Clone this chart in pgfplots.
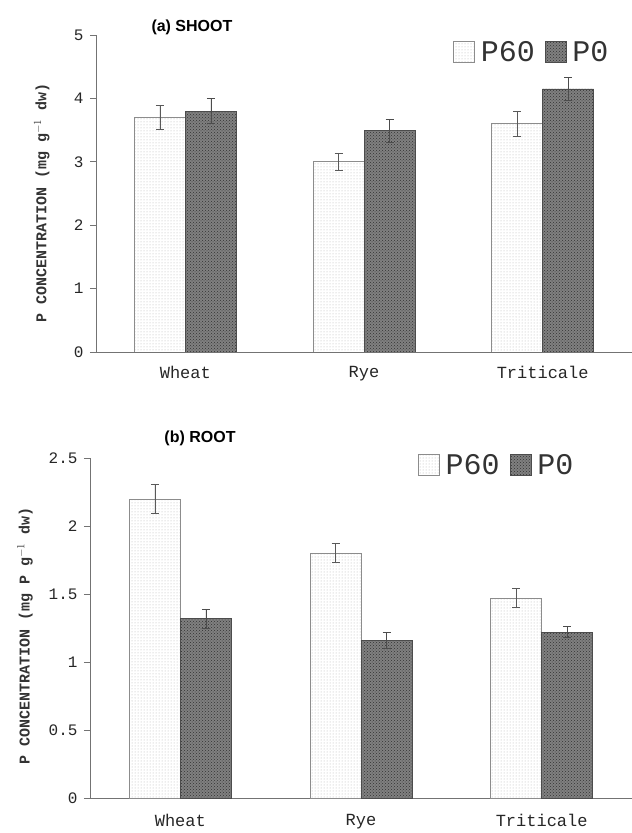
\documentclass[border=0pt]{standalone}
\usepackage{fontspec}
\setmainfont{Liberation Mono}
\newfontfamily\arialfont{Liberation Sans}
\usepackage{pgfplots}
\usepackage{pgfplotstable}
\pgfplotsset{compat=1.18}
\usetikzlibrary{patterns}

\pgfplotstableread{
x p60 e60 p0 e0
0 3.70 0.19 3.80 0.20
1 3.00 0.14 3.49 0.18
2 3.60 0.19 4.15 0.18
}\shoottab
\pgfplotstableread{
x p60 e60 p0 e0
0 2.20 0.11 1.32 0.07
1 1.80 0.07 1.16 0.06
2 1.47 0.07 1.22 0.04
}\roottab

\pgfplotsset{
  panel/.style={
    scale only axis,
    axis x line=bottom, axis y line=left,
    axis line style={-, black!55, line width=0.8pt},
    xmin=-0.5, xmax=2.5, ymin=0,
    xtick={0,1,2}, xticklabels={Wheat,Rye,Triticale},
    major x tick style={draw=none},
    extra x ticks={0.5,1.5}, extra x tick labels={},
    extra x tick style={major tick length=5pt, tick style={black!55, line width=0.8pt}},
    y tick style={black!55, line width=0.8pt},
    tick align=outside, major tick length=6pt,
    /pgf/number format/assume math mode=true,
    ticklabel style={font=\fontsize{16}{18}\selectfont, black!85},
    yticklabel style={xshift=-3pt},
    xticklabel style={font=\fontsize{17}{19}\selectfont, black!85},
    ylabel style={font=\fontsize{15}{17}\selectfont\bfseries, black!80, anchor=center},
    title style={font=\arialfont\bfseries\fontsize{16}{18}\selectfont, anchor=center, yshift=0pt},
    ybar=0pt, bar width=51pt,
    legend columns=2,
    legend style={draw=none, fill=none, inner sep=0pt, font=\fontsize{30}{32}\selectfont, anchor=west,
      text=black!80,
      /tikz/every odd column/.append style={column sep=4pt},
      /tikz/every even column/.append style={column sep=8pt}},
    legend image code/.code={\draw[#1] (0pt,-10.5pt) rectangle (21pt,10.5pt);},
  },
  p60/.style={draw=black!45, line width=0.6pt, pattern=dots, pattern color=black!30,
    error bars/.cd, y dir=both, y explicit,
    error bar style={black!65, line width=0.6pt},
    error mark options={rotate=90, black!65, mark size=4pt, line width=0.6pt}},
  p0/.style={draw=black!70, line width=0.6pt, fill=black!50,
    postaction={pattern=crosshatch dots, pattern color=black!80},
    error bars/.cd, y dir=both, y explicit,
    error bar style={black!70, line width=0.6pt},
    error mark options={rotate=90, black!70, mark size=4pt, line width=0.6pt}},
}

\begin{document}
\begin{tikzpicture}
\useasboundingbox (0pt,0pt) rectangle (632pt,833pt);

\begin{axis}[panel,
  at={(96pt,481pt)}, anchor=south west,
  width=536pt, height=317pt,
  ymax=5, ytick={0,1,2,3,4,5},
  title={(a) SHOOT},
  title style={at={(axis description cs:0.179,1.004)}},
  ylabel={P CONCENTRATION (mg g$^{-1}$ dw)},
  ylabel style={at={(axis description cs:-0.101,0.47)}},
  legend style={at={(axis description cs:0.666,0.946)}},
  xticklabel style={yshift=-5pt},
]
\addplot[p60] table[x=x, y=p60, y error=e60] {\shoottab};
\addplot[p0] table[x=x, y=p0, y error=e0] {\shoottab};
\legend{P60,P0}
\end{axis}

\begin{axis}[panel,
  at={(90pt,35pt)}, anchor=south west,
  width=542pt, height=340pt,
  ymax=2.5, ytick={0,0.5,1,1.5,2,2.5},
  title={(b) ROOT},
  title style={at={(axis description cs:0.203,1.041)}},
  ylabel={P CONCENTRATION (mg P g$^{-1}$ dw)},
  ylabel style={at={(axis description cs:-0.12,0.476)}},
  legend style={at={(axis description cs:0.605,0.98)}},
  xticklabel style={yshift=-7pt},
]
\addplot[p60] table[x=x, y=p60, y error=e60] {\roottab};
\addplot[p0] table[x=x, y=p0, y error=e0] {\roottab};
\legend{P60,P0}
\end{axis}
\end{tikzpicture}
\end{document}
